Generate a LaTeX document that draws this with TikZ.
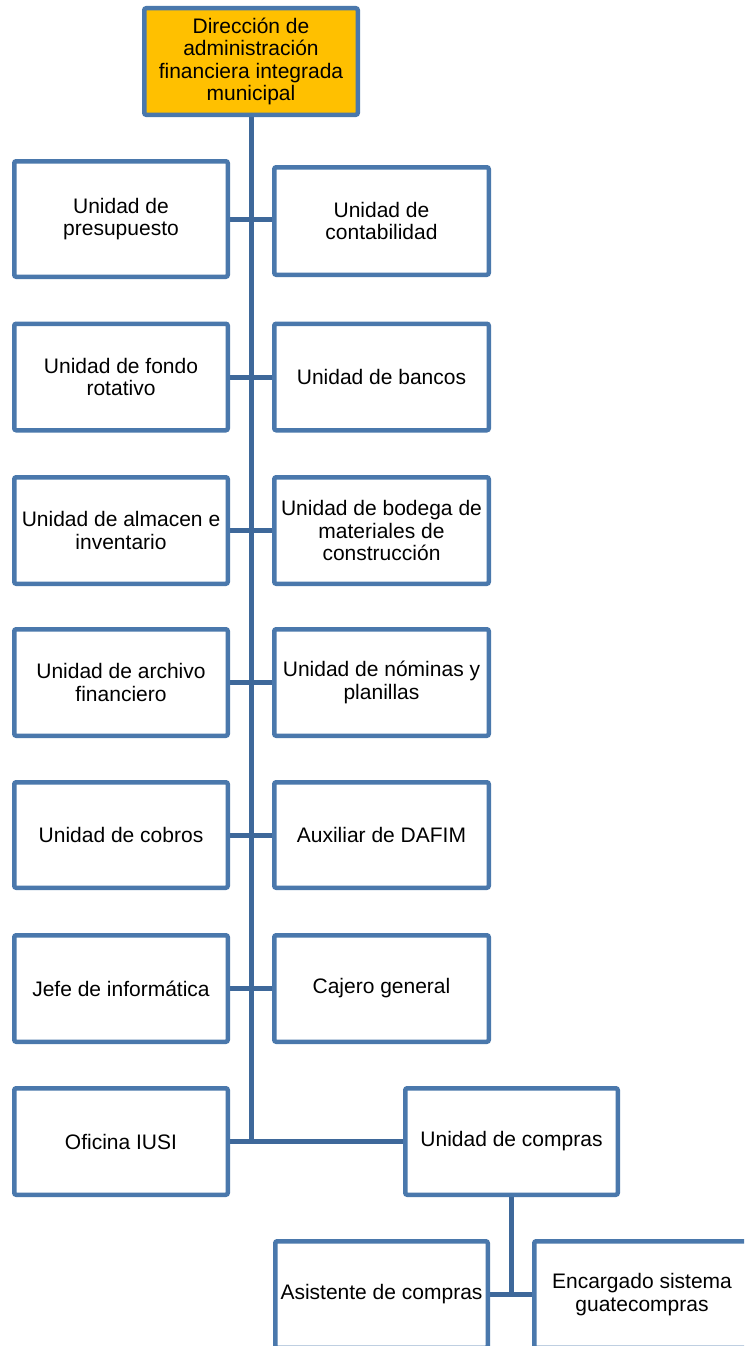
\documentclass[tikz,border=0pt]{standalone}
\usepackage{fontspec}
\setmainfont{Liberation Sans}
\usetikzlibrary{backgrounds}
\definecolor{boxblue}{RGB}{74,120,172}
\definecolor{lineblue}{RGB}{62,104,154}
\definecolor{headorange}{RGB}{255,192,0}
\tikzset{
  orgbox/.style={draw=boxblue, line width=4.5pt, rounded corners=2pt, fill=white,
    align=center, inner sep=0pt, font=\fontsize{21}{22.5}\selectfont,
    minimum width=213.5pt, minimum height=106.5pt},
  headbox/.style={orgbox, fill=headorange},
  link/.style={draw=lineblue, line width=5pt}
}
\begin{document}
\begin{tikzpicture}[x=1pt,y=-1pt]
\useasboundingbox (0,0) rectangle (744,1346);
\clip (0,0) rectangle (744,1346);
% nodes
\node[headbox, minimum height=106.5pt] (top) at (251,61.5) {Dirección de\\administración\\financiera integrada\\municipal};
\node[orgbox, minimum height=115.5pt] (l1) at (121,219) {Unidad de\\presupuesto};
\node[orgbox, minimum width=214.5pt, minimum height=107.5pt] (r1) at (381.5,221) {Unidad de\\contabilidad};
\node[orgbox] (l2) at (121,377) {Unidad de fondo\\rotativo};
\node[orgbox, minimum width=214.5pt] (r2) at (381.5,377) {Unidad de bancos};
\node[orgbox] (l3) at (121,530.5) {Unidad de almacen e\\inventario};
\node[orgbox, minimum width=214.5pt] (r3) at (381.5,530.5) {Unidad de bodega de\\materiales de\\construcción};
\node[orgbox] (l4) at (121,682.5) {Unidad de archivo\\financiero};
\node[orgbox, minimum width=214.5pt] (r4) at (381.5,682.5) {Unidad de nóminas y\\planillas};
\node[orgbox, minimum height=105.5pt] (l5) at (121,835) {Unidad de cobros};
\node[orgbox, minimum width=214.5pt, minimum height=105.5pt] (r5) at (381.5,835) {Auxiliar de DAFIM};
\node[orgbox] (l6) at (121,988.5) {Jefe de informática};
\node[orgbox, minimum width=214.5pt] (r6) at (381.5,988.5) {Cajero general};
\node[orgbox] (iusi) at (121,1141.5) {Oficina IUSI};
\node[orgbox, minimum width=212.5pt] (compras) at (511.5,1141.5) {Unidad de compras};
\node[orgbox, minimum width=212.5pt] (asis) at (381.5,1294.5) {Asistente de compras};
\node[orgbox, minimum width=215.5pt] (enc) at (642,1294.5) {Encargado sistema\\guatecompras};
% connectors (behind boxes)
\begin{scope}[on background layer]
\fill[white] (0,0) rectangle (744,1346);
\coordinate (trunkend) at (iusi.east -| top.south);
\draw[link] (top.south) -- (trunkend);
\draw[link] (l1.east) -- (l1.east -| r1.west);
\draw[link] (l2.east) -- (r2.west);
\draw[link] (l3.east) -- (r3.west);
\draw[link] (l4.east) -- (r4.west);
\draw[link] (l5.east) -- (r5.west);
\draw[link] (l6.east) -- (r6.west);
\draw[link] (iusi.east) -- (compras.west);
\coordinate (subend) at (compras.south |- asis.east);
\draw[link] (compras.south) -- (subend);
\draw[link] (asis.east) -- (enc.west);
\end{scope}
\end{tikzpicture}
\end{document}
